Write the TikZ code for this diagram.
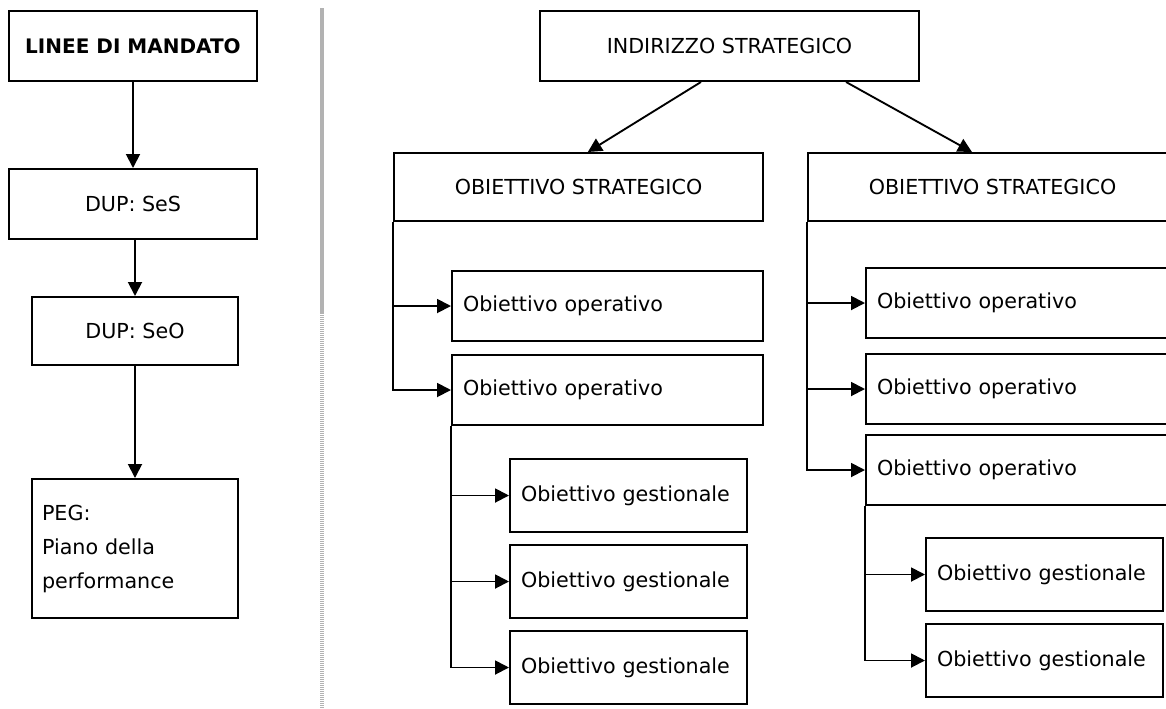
\documentclass[tikz,border=0pt]{standalone}
\usepackage{fontspec}
\setmainfont{DejaVu Sans}
\usetikzlibrary{arrows.meta}

\tikzset{
  box/.style={draw, line width=1.5pt, inner sep=0pt, anchor=north west,
    font=\fontsize{15.5}{18}\selectfont},
  leftbox/.style={box, inner xsep=8.25pt, align=left},
  opbox/.style={leftbox, minimum width=233.25pt, minimum height=52.5pt, text width=216.75pt},
  gestbox/.style={leftbox, minimum width=177.75pt, minimum height=54.75pt, text width=161.25pt},
  arr/.style={line width=1.4pt, -{Triangle[length=10.5pt,width=10.5pt]}},
  divider/.style={line width=2.6pt, draw=black!30}
}

\begin{document}
\begin{tikzpicture}[x=0.75pt,y=-0.75pt]
                \useasboundingbox (0,0) rectangle (1166,708);
                \clip (0,0) rectangle (1166,708);

                % Drawing the left column
                \node [box, minimum width=186pt, minimum height=52.5pt,
                  font=\bfseries\fontsize{15}{18}\selectfont] (mandato) at (8,10) {LINEE DI MANDATO};
                \node [box, minimum width=186pt, minimum height=52.5pt] (ses) at (8,168) {DUP: SeS};
                \node [box, minimum width=154.5pt, minimum height=51pt] (seo) at (31,296) {DUP: SeO};
                \node [leftbox, inner xsep=7.5pt, minimum width=154.5pt, minimum height=104.25pt,
                  text width=139.5pt, font=\fontsize{15.5}{25.5}\selectfont] (peg) at (31,478)
                  {PEG:\\Piano della\\performance};

                \draw [arr] (mandato) -- (ses);%
                \draw [arr] (seo.north |- ses.south) -- (seo);%
                \draw [arr] (seo) -- (peg);%

                % Drawing the divider
                \draw [divider] (322,8) -- (322,313);%
                \draw [divider, dash pattern=on 0.75pt off 0.75pt] (322,313) -- (322,708);%

                % Drawing the strategic boxes
                \node [box, minimum width=284.25pt, minimum height=52.5pt] (ind) at (539,10) {INDIRIZZO STRATEGICO};
                \node [box, minimum width=276.75pt, minimum height=51pt] (os1) at (393,152) {OBIETTIVO STRATEGICO};
                \node [box, minimum width=276.75pt, minimum height=51pt] (os2) at (807,152) {OBIETTIVO STRATEGICO};

                \draw [arr] ([xshift=-21.4pt]ind.south) -- ([xshift=7pt]os1.north);%
                \draw [arr] ([xshift=87.4pt]ind.south) -- ([xshift=-15.4pt]os2.north);%

                % Drawing the left tree
                \node [opbox] (oo1) at (451,270) {Obiettivo operativo};
                \node [opbox] (oo2) at (451,354) {Obiettivo operativo};
                \node [gestbox] (og1) at (509,458) {Obiettivo gestionale};
                \node [gestbox] (og2) at (509,544) {Obiettivo gestionale};
                \node [gestbox] (og3) at (509,630) {Obiettivo gestionale};

                \draw [arr] (os1.south west) |- (oo1.west);%
                \draw [arr] (os1.south west) |- (oo2.west);%
                \draw [arr] (oo2.south west) |- (og1.west);%
                \draw [arr] (oo2.south west) |- (og2.west);%
                \draw [arr] (oo2.south west) |- (og3.west);%

                % Drawing the right tree
                \node [opbox] (roo1) at (865,267) {Obiettivo operativo};
                \node [opbox] (roo2) at (865,353) {Obiettivo operativo};
                \node [opbox] (roo3) at (865,434) {Obiettivo operativo};
                \node [gestbox] (rog1) at (925,537) {Obiettivo gestionale};
                \node [gestbox] (rog2) at (925,623) {Obiettivo gestionale};

                \draw [arr] (os2.south west) |- (roo1.west);%
                \draw [arr] (os2.south west) |- (roo2.west);%
                \draw [arr] (os2.south west) |- (roo3.west);%
                \draw [arr] (roo3.south west) |- (rog1.west);%
                \draw [arr] (roo3.south west) |- (rog2.west);%
\end{tikzpicture}
\end{document}
